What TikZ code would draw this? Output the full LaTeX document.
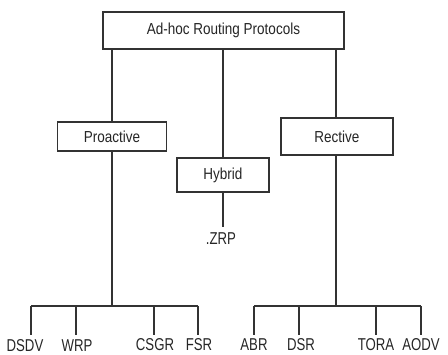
\documentclass[tikz,border=0pt]{standalone}
\usepackage{fontspec}
\usepackage{graphicx}
\setmainfont{Liberation Sans}
\newcommand{\tx}[1]{\scalebox{1}[1.18]{#1}}
\newcommand{\lx}[1]{\scalebox{1}[1.3]{#1}}
\begin{document}
\begin{tikzpicture}[x=1pt,y=-1pt,
  box/.style={draw=black!80,line width=1.4pt,fill=white,inner sep=0pt,
    font=\fontsize{13.5}{15}\selectfont,text=black!85},
  leaf/.style={inner sep=0pt,anchor=base,font=\fontsize{13.2}{15}\selectfont,text=black!85},
  conn/.style={draw=black!80,line width=1.3pt}]
\useasboundingbox (0,0) rectangle (448,355);
\node[box,minimum width=241pt,minimum height=37pt] (top) at (223.5,30.5) {\tx{Ad-hoc Routing Protocols}};
\node[box,minimum width=109pt,minimum height=29pt] (pro) at (112,136.5) {\tx{Proactive}};
\node[box,minimum width=92pt,minimum height=34pt] (hyb) at (223,175) {\tx{Hybrid}};
\node[box,minimum width=112pt,minimum height=37pt] (rec) at (337,136.5) {\tx{Rective}};
\node[leaf] (zrp) at (221,245) {\lx{.ZRP}};
% leaves
\node[leaf] (dsdv) at (25,351.5) {\lx{DSDV}};
\node[leaf] (wrp) at (77,351.5) {\lx{WRP}};
\node[leaf] (csgr) at (155,351) {\lx{CSGR}};
\node[leaf] (fsr) at (199,351) {\lx{FSR}};
\node[leaf] (abr) at (254,351) {\lx{ABR}};
\node[leaf] (dsr) at (301,351) {\lx{DSR}};
\node[leaf] (tora) at (376,351) {\lx{TORA}};
\node[leaf] (aodv) at (421,351) {\lx{AODV}};
% bus coordinates
\coordinate (jl) at (112,306);
\coordinate (jr) at (336,306);
\coordinate (l1) at (31,306);
\coordinate (l2) at (76,306);
\coordinate (l3) at (154,306);
\coordinate (l4) at (198,306);
\coordinate (r1) at (254,306);
\coordinate (r2) at (299,306);
\coordinate (r3) at (376,306);
\coordinate (r4) at (421,306);
% connectors
\draw[conn] (top.south -| pro.north) -- (pro.north);
\draw[conn] (top.south -| hyb.north) -- (hyb.north);
\draw[conn] (top.south -| jr) -- (rec.north -| jr);
\draw[conn] (hyb.south) -- ([yshift=6pt]zrp.north -| hyb.south);
\draw[conn] (pro.south) -- (jl);
\draw[conn] (rec.south -| jr) -- (jr);
\draw[conn] (l1) -- (l4);
\draw[conn] (r1) -- (r4);
\draw[conn] (l1) -- ([yshift=4pt]l1 |- dsdv.north);
\draw[conn] (l2) -- ([yshift=4pt]l2 |- wrp.north);
\draw[conn] (l3) -- ([yshift=4pt]l3 |- csgr.north);
\draw[conn] (l4) -- ([yshift=4pt]l4 |- fsr.north);
\draw[conn] (r1) -- ([yshift=4pt]r1 |- abr.north);
\draw[conn] (r2) -- ([yshift=4pt]r2 |- dsr.north);
\draw[conn] (r3) -- ([yshift=4pt]r3 |- tora.north);
\draw[conn] (r4) -- ([yshift=4pt]r4 |- aodv.north);
\end{tikzpicture}
\end{document}
